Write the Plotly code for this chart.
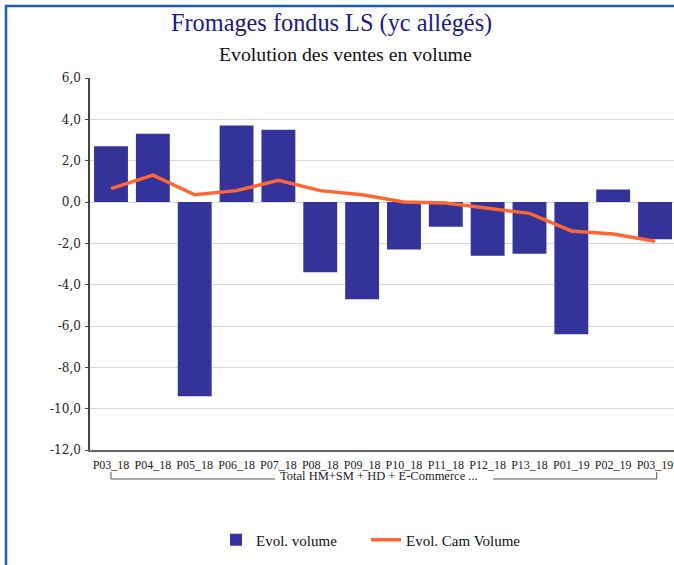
import plotly.graph_objects as go

# Periods and series
periods = ["P03_18", "P04_18", "P05_18", "P06_18", "P07_18", "P08_18", "P09_18",
           "P10_18", "P11_18", "P12_18", "P13_18", "P01_19", "P02_19", "P03_19"]
evol_volume = [2.7, 3.3, -9.4, 3.7, 3.5, -3.4, -4.7, -2.3, -1.2, -2.6, -2.5, -6.4, 0.6, -1.8]
evol_cam_volume = [0.65, 1.3, 0.35, 0.55, 1.05, 0.55, 0.35, 0.0, -0.05, -0.3, -0.55, -1.4, -1.55, -1.9]

y_tick_values = [6, 4, 2, 0, -2, -4, -6, -8, -10, -12]
y_tick_labels = ["6,0", "4,0", "2,0", "0,0", "-2,0", "-4,0", "-6,0", "-8,0", "-10,0", "-12,0"]

group_label = "Total HM+SM + HD + E-Commerce ..."
title_text = "Fromages fondus LS (yc allégés)"
subtitle_text = "Evolution des ventes en volume"

W, H = 674, 565
ML, MR, MT, MB = 90, 0, 78, 115
plot_w = W - ML - MR
plot_h = H - MT - MB


def px_x(px):
    return (px - ML) / plot_w


def px_y(py):
    return (H - MB - py) / plot_h


fig = go.Figure()
fig.add_trace(go.Bar(
    x=list(range(len(periods))), y=evol_volume, name="Evol. volume",
    marker=dict(color="#333399", line=dict(width=0)),
    legend="legend",
))
fig.add_trace(go.Scatter(
    x=list(range(len(periods))), y=evol_cam_volume, name="Evol. Cam Volume",
    mode="lines", line=dict(color="#ff6633", width=3.5),
    legend="legend2",
))

border_color = "#1b5fb2"
line_dark = "#555555"
shapes = [
    # frame around the chart
    dict(type="line", xref="paper", yref="paper", x0=px_x(6), x1=px_x(6),
         y0=px_y(5), y1=px_y(H + 10), line=dict(color=border_color, width=2.5)),
    dict(type="line", xref="paper", yref="paper", x0=px_x(5), x1=px_x(W + 10),
         y0=px_y(6), y1=px_y(6), line=dict(color=border_color, width=2.5)),
    # group bracket under the category labels
    dict(type="line", xref="x", yref="paper", x0=0, x1=0,
         y0=px_y(472), y1=px_y(479), line=dict(color=line_dark, width=1)),
    dict(type="line", xref="x", yref="paper", x0=0, x1=3.92,
         y0=px_y(479), y1=px_y(479), line=dict(color=line_dark, width=1)),
    dict(type="line", xref="x", yref="paper", x0=9.13, x1=13.04,
         y0=px_y(479), y1=px_y(479), line=dict(color=line_dark, width=1)),
    dict(type="line", xref="x", yref="paper", x0=13.04, x1=13.04,
         y0=px_y(472), y1=px_y(479), line=dict(color=line_dark, width=1)),
]

annotations = [
    dict(text=title_text, xref="paper", yref="paper", x=px_x(331), y=px_y(23),
         xanchor="center", yanchor="middle", showarrow=False,
         font=dict(family="Liberation Serif", size=24.3, color="#1a1a8a")),
    dict(text=subtitle_text, xref="paper", yref="paper", x=px_x(345), y=px_y(54),
         xanchor="center", yanchor="middle", showarrow=False,
         font=dict(family="Liberation Serif", size=19.8, color="#111111")),
    dict(text=group_label, xref="x", yref="paper", x=6.40, y=px_y(475.5),
         xanchor="center", yanchor="middle", showarrow=False,
         font=dict(family="Liberation Serif", size=12.5, color="#222222")),
]

legend_font = dict(family="Liberation Serif", size=15, color="#111111")
fig.update_layout(
    width=W, height=H,
    margin=dict(l=ML, r=MR, t=MT, b=MB, pad=0),
    paper_bgcolor="white", plot_bgcolor="white",
    bargap=0.19,
    showlegend=True,
    legend=dict(orientation="h", x=px_x(216), y=px_y(540), xanchor="left", yanchor="middle",
                font=legend_font, itemwidth=30),
    legend2=dict(orientation="h", x=px_x(366), y=px_y(540), xanchor="left", yanchor="middle",
                 font=legend_font, itemwidth=30),
    shapes=shapes,
    annotations=annotations,
)

fig.update_xaxes(
    range=[-0.502, 13.453],
    tickmode="array", tickvals=list(range(len(periods))), ticktext=periods,
    showgrid=False, zeroline=False,
    showline=True, linecolor="#666666", linewidth=2,
    ticks="", ticklabelstandoff=3,
    tickfont=dict(family="Liberation Serif", size=12, color="#222222"),
)
fig.update_yaxes(
    range=[-12, 6],
    tickmode="array", tickvals=y_tick_values, ticktext=y_tick_labels,
    showgrid=True, gridcolor="#d9d9d9", gridwidth=1,
    zeroline=False,
    showline=True, linecolor="#444444", linewidth=1.5,
    ticks="outside", ticklen=3, tickcolor="#444444", ticklabelstandoff=2,
    tickfont=dict(family="DejaVu Serif", size=12, color="#222222"),
)

fig.write_html("out.html")
